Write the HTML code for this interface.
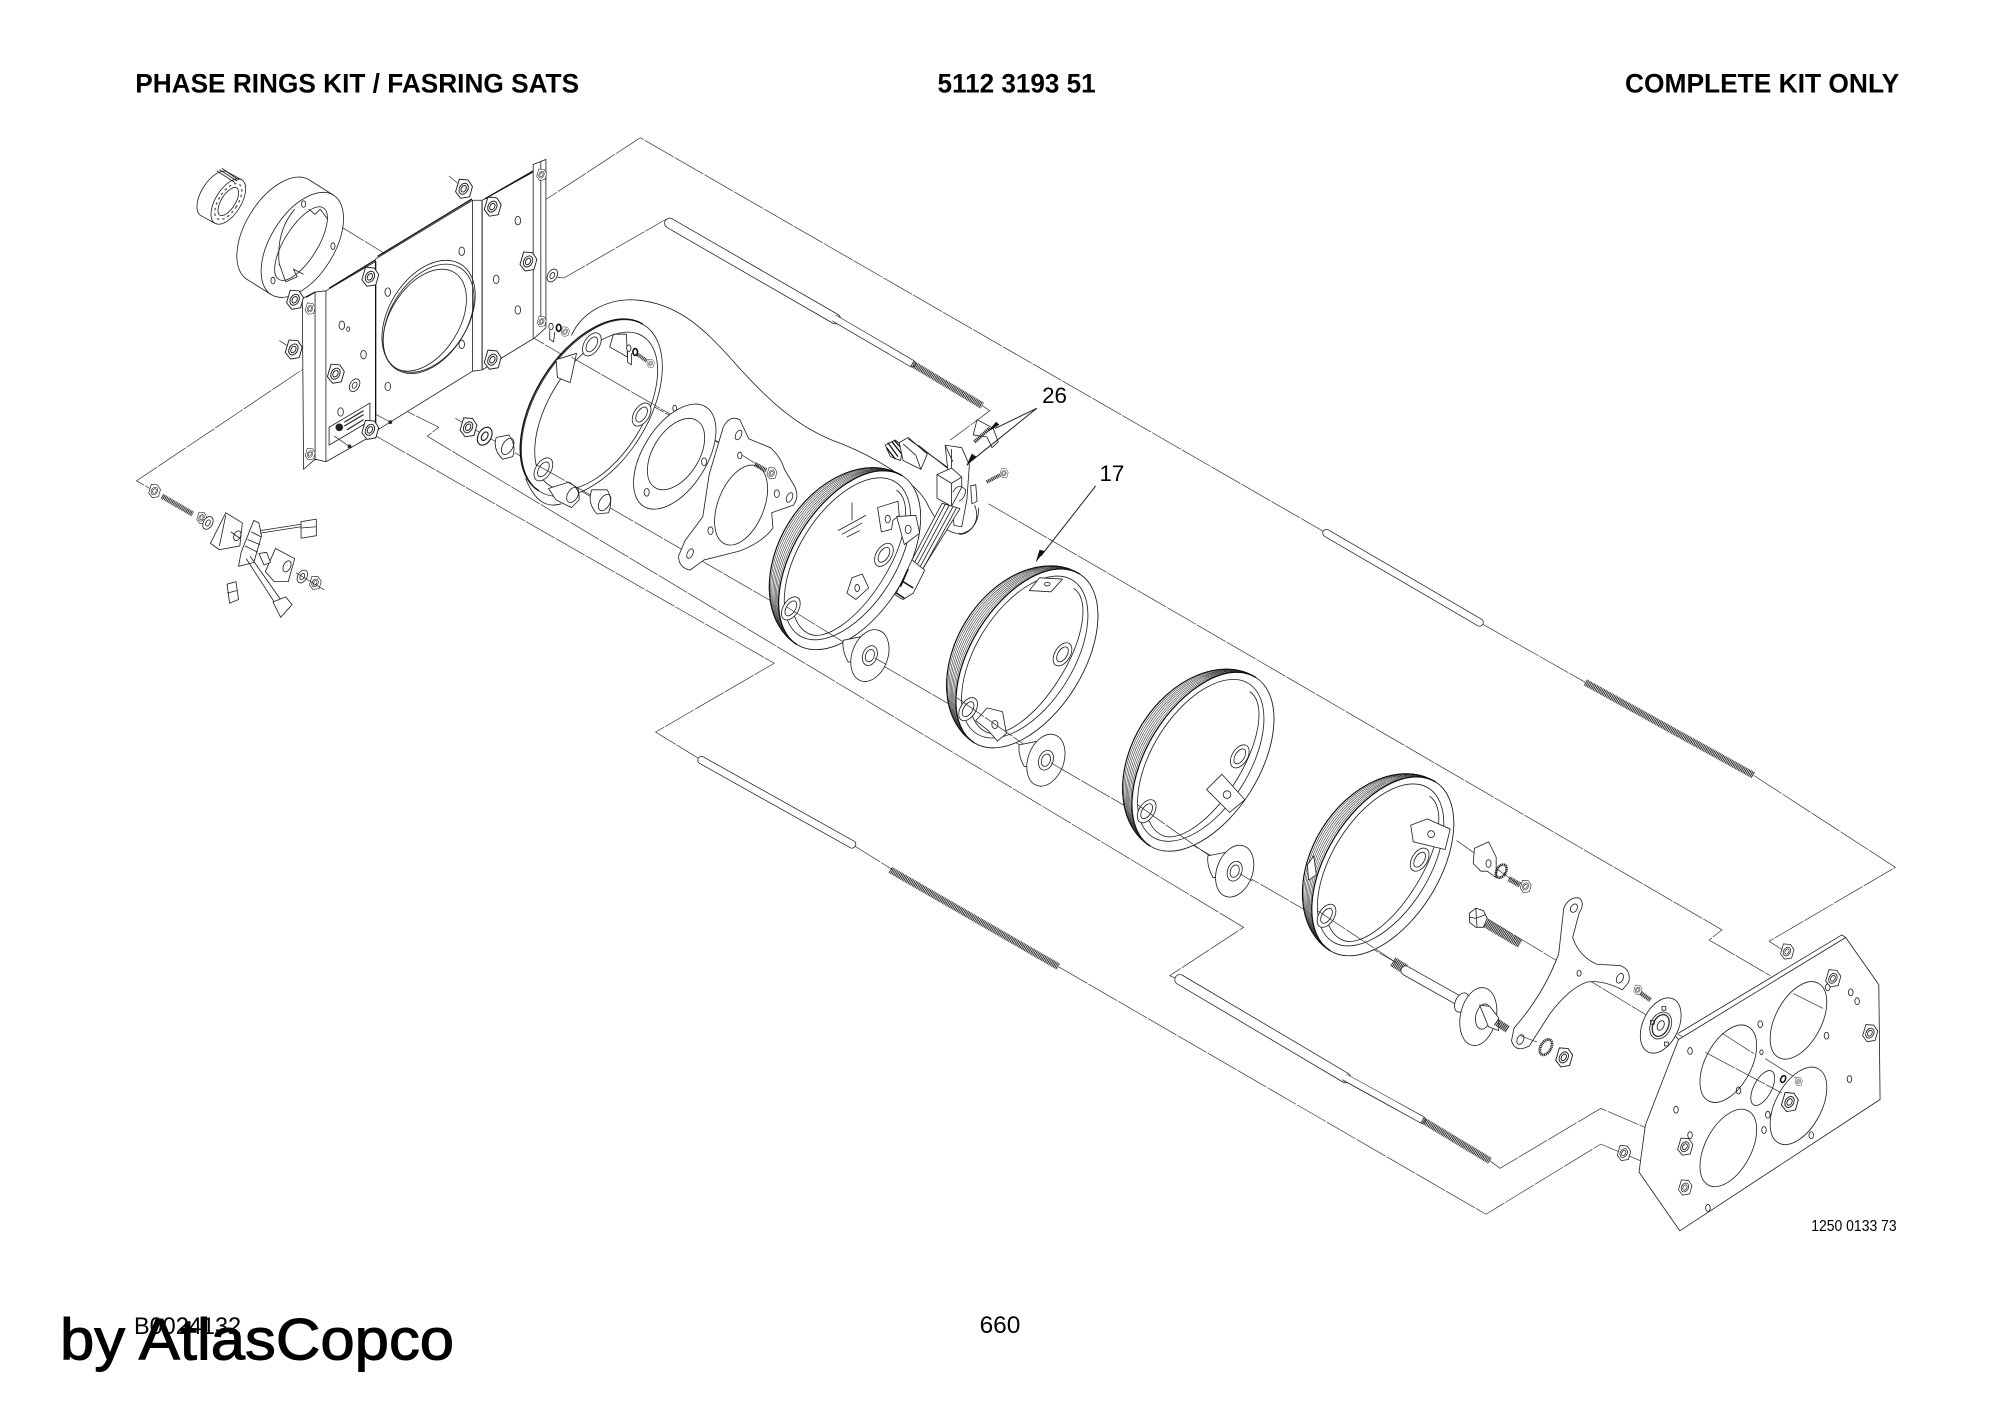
<!DOCTYPE html>
<html><head><meta charset="utf-8"><style>
html,body{margin:0;padding:0;background:#fff}
svg{display:block}
.c{fill:none;stroke:#333;stroke-width:.55;stroke-dasharray:26 1}
.p{fill:none;stroke:#222;stroke-width:.65;stroke-linejoin:round}
.w{fill:#fff;stroke:#222;stroke-width:.65;stroke-linejoin:round}
.k{fill:none;stroke:#111;stroke-width:1.2}
.t{fill:none;stroke:#333;stroke-width:5.4;stroke-dasharray:.8 .5}
.f{font-family:"Liberation Sans",sans-serif;fill:#000}
.ro{stroke:#222;stroke-linecap:round;fill:none}
.ri{stroke:#fff;stroke-linecap:round;fill:none}
</style></head><body>
<svg width="2000" height="1414" viewBox="0 0 1568 1108.6" xmlns="http://www.w3.org/2000/svg">
<defs>
<g id="nut" transform="scale(1.15)"><path class="w" d="M-3,-6.5 L3,-6 L6,-1.5 L4,5.5 L-2,6.5 L-5.5,2 Z"/><ellipse class="p" rx="2.9" ry="4" transform="rotate(30)"/><ellipse class="p" rx="1.6" ry="2.4" transform="rotate(30)"/></g>
<g id="wash"><ellipse class="w" rx="3.6" ry="5.4" transform="rotate(30)"/><ellipse class="p" rx="1.6" ry="2.6" transform="rotate(30)"/></g>
<g id="ring" transform="rotate(32)">
<path class="w" d="M6,-78 A56,78 0 0 0 6,78 A44,78 0 0 0 6,-78 Z"/>
<ellipse cx="6" rx="44" ry="78" fill="#fff" stroke="#222" stroke-width=".65"/>
<g fill="none" stroke="#333" stroke-width=".45">
<path d="M6,-78 A54.5,78 0 0 0 6,78"/><path d="M6,-78 A53,78 0 0 0 6,78"/><path d="M6,-78 A51.500,78 0 0 0 6,78"/><path d="M6,-78 A50,78 0 0 0 6,78"/><path d="M6,-78 A48.5,78 0 0 0 6,78"/><path d="M6,-78 A47,78 0 0 0 6,78"/><path d="M6,-78 A45.500,78 0 0 0 6,78"/>
</g>
<path d="M6,-78 A56,78 0 0 0 6,78" fill="none" stroke="#111" stroke-width=".9"/>
<path d="M6,-78 A44,78 0 0 0 6,78" fill="none" stroke="#111" stroke-width="1"/>
<ellipse class="p" cx="4" rx="38" ry="71"/>
<path class="p" d="M8,-66 A28,66 0 0 1 8,66"/>
<path class="p" d="M8,66 A36,66 0 0 1 -16,50"/>
</g>
<g id="lug"><ellipse class="w" rx="6" ry="10"/><ellipse class="p" rx="3.6" ry="6.5"/></g>
<g id="disc"><path class="w" d="M-21,-12 L-6,-15 L-6,4 L-17,5 Q-22,-4 -21,-12 Z"/><ellipse class="w" rx="14" ry="21" transform="rotate(20)"/><ellipse class="p" rx="5.6" ry="8" transform="rotate(20)"/><ellipse class="p" rx="3.4" ry="5" transform="rotate(20)"/></g>
</defs>

<!-- header text -->
<g class="f" font-weight="700" font-size="21">
<text x="106" y="72.5" textLength="348" lengthAdjust="spacingAndGlyphs">PHASE RINGS KIT / FASRING SATS</text>
<text x="735" y="72.5" textLength="124" lengthAdjust="spacingAndGlyphs">5112 3193 51</text>
<text x="1274" y="72.5" textLength="215" lengthAdjust="spacingAndGlyphs">COMPLETE KIT ONLY</text>
</g>

<!-- connector lines -->
<polyline class="c" points="392,165 404,172 502,108 1040,418"/>
<polyline class="c" points="1160,488 1243,535"/>
<polyline class="c" points="1375,608 1486,680 1387,738 1401,747"/>
<polyline class="c" points="435,217 442,218 522,172"/>
<polyline class="c" points="770,318 776,322 745,345"/>
<polyline class="c" points="775,395 1350,729 1340,737 1388,765"/>
<polyline class="c" points="240,161 302,199"/>
<polyline class="c" points="334,216 463,291 604,370"/>
<polyline class="c" points="278,302 344,335 335,342 975,727 917,765 926,769"/>
<polyline class="c" points="295,342 607,520 514,574 550,596"/>
<polyline class="c" points="668,662 700,682"/>
<polyline class="c" points="830,758 1165,952 1255,897 1286,910"/>
<polyline class="c" points="1168,910 1176,916 1255,869 1290,884"/>
<polyline class="c" points="1055,845 1113,877"/>
<polyline class="c" points="280,261 107,377 121,385"/>
<polyline class="c" points="357,328 1095,755"/>
<polyline class="c" points="1142,659 1190,693"/>
<polyline class="c" points="1164,719 1410,868"/>
<polyline class="c" points="352,138 364,148"/>
<polyline class="c" points="219,267 230,274"/>
<polyline class="c" points="655,250 715,285"/>

<!-- collet -->
<ellipse class="w" cx="168" cy="152" rx="10" ry="20" transform="rotate(32 168 152)"/>
<polygon points="178.6,135 189.600,141 168.4,175 157.4,169" fill="#fff"/>
<path class="p" d="M178.6,135 L189.6,141 M157.4,169 L168.4,175"/>
<ellipse class="w" cx="179" cy="158" rx="10" ry="20" transform="rotate(32 179 158)"/>
<ellipse class="p" cx="179" cy="158" rx="5.5" ry="12.5" transform="rotate(32 179 158)"/>
<ellipse cx="179" cy="158" rx="7.5" ry="16" fill="none" stroke="#555" stroke-width="1" stroke-dasharray="2 2.4" transform="rotate(32 179 158)"/>
<path d="M170,134 L184,143 M172,133 L186,142 M174,132 L187,141" stroke="#222" stroke-width=".7" fill="none"/>
<!-- big ring -->
<ellipse class="w" cx="218" cy="180" rx="25" ry="46" transform="rotate(32 218 180)"/>
<polygon points="242.4,141 261.4,153 212.6,231 193.6,219" fill="#fff"/>
<path class="p" d="M242.4,141 L261.4,153 M193.6,219 L212.6,231"/>
<ellipse class="w" cx="237" cy="192" rx="25" ry="46" transform="rotate(32 237 192)"/>
<ellipse class="p" cx="236" cy="191" rx="13" ry="33" transform="rotate(32 236 191)"/>
<path class="p" d="M231,164 Q216,182 219,208"/>
<path class="p" d="M219,207 L224,221 L233,217 L230,211 L238,215 M242,164 L247,168 L251,164 L257,172"/>
<ellipse class="p" cx="238" cy="160" rx="1.6" ry="2.6"/><ellipse class="p" cx="261" cy="193" rx="1.6" ry="2.6"/><ellipse class="p" cx="214" cy="220" rx="1.6" ry="2.6"/>

<!-- mounting plate -->
<g>
<polygon class="w" points="237,234 247,229 255.5,228 294.5,205 294.5,340 255.5,362 247,360 238,368"/>
<polygon class="w" points="294.5,203 370.5,157 378,157 378,290 370.5,291 294.5,338"/>
<polygon class="w" points="378,157 418,135 418,129 428,125 428,257 419,265 378,290"/>
<path class="p" d="M247,229 L247,361 M255.5,228 L255.5,362 M370.5,157 L370.5,291 M378,157 L378,290 M418,135 L418,265 M424,127 L424,255"/>
<path d="M296,201 L370,156 M240,233 L247,229 M258,226 L294,204 M380,156 L418,134 M294.5,205 L294.5,338" fill="none" stroke="#111" stroke-width="1"/>
<ellipse class="p" cx="336" cy="248" rx="31" ry="48" transform="rotate(32 336 248)"/>
<ellipse class="p" cx="336" cy="250" rx="30" ry="47" transform="rotate(32 336 250)"/>
<ellipse class="p" cx="333" cy="251" rx="27" ry="44" transform="rotate(32 333 251)"/>
<g class="p">
<ellipse cx="362" cy="197" rx="2.2" ry="3.3"/><ellipse cx="362" cy="270" rx="2.2" ry="3.3"/><ellipse cx="304" cy="229" rx="2.2" ry="3.3"/><ellipse cx="304" cy="303" rx="2.2" ry="3.3"/>
<ellipse cx="406" cy="173" rx="2.2" ry="3.3"/><ellipse cx="389" cy="219" rx="2.2" ry="3.3"/><ellipse cx="406" cy="243" rx="2.2" ry="3.3"/>
<ellipse cx="285" cy="278" rx="2.2" ry="3.3"/><ellipse cx="267" cy="323" rx="2.2" ry="3.3"/><ellipse cx="268" cy="255" rx="2.2" ry="3.3"/><ellipse cx="273" cy="258" rx="1.2" ry="1.8"/>
</g>
<polygon class="w" points="258,335 290,316 290,330 258,349"/>
<circle cx="266" cy="335" r="3" fill="#222"/>
<path d="M270,331 L285,322 M270,334 L285,325 M272,337 L285,329" stroke="#333" stroke-width="1" fill="none"/>
<circle cx="306" cy="331" r="1.5" fill="#222"/><circle cx="274" cy="350" r="1.5" fill="#222"/>
<polyline class="c" points="295,325 306,331"/><polyline class="c" points="262,342 274,350"/>
</g>
<use href="#nut" x="363.5" y="148"/><use href="#nut" x="386" y="162"/><use href="#nut" x="424.5" y="137" transform="translate(424.5 137) scale(.6) translate(-424.5 -137)"/><use href="#nut" x="414" y="205"/><use href="#wash" x="433" y="216"/><use href="#nut" x="386" y="282"/><use href="#nut" x="290" y="217"/><use href="#nut" x="231" y="235"/><use href="#nut" x="243" y="242" transform="translate(243 242) scale(.6) translate(-243 -242)"/><use href="#nut" x="230" y="274"/><use href="#nut" x="263" y="293"/><use href="#wash" x="278" y="302"/><use href="#nut" x="290" y="337"/><use href="#nut" x="243" y="356" transform="translate(243 356) scale(.6) translate(-243 -356)"/>
<use href="#nut" x="424.5" y="252" transform="translate(424.5 252) scale(.55) translate(-424.5 -252)"/>
<ellipse class="w" cx="432" cy="256" rx="1.7" ry="2.6"/><path class="p" d="M431,259 L431,266 L434,268 L435,260"/><ellipse cx="438" cy="257" rx="1.8" ry="2.7" fill="none" stroke="#111" stroke-width="1.3"/><use href="#nut" x="443" y="260" transform="translate(443 260) scale(.5) translate(-443 -260)"/>

<!-- rods -->
<g>
<line class="ro" x1="525" y1="175" x2="655" y2="250" stroke-width="8.5"/><line class="ri" x1="525" y1="175" x2="655" y2="250" stroke-width="7.3"/>
<line class="ro" x1="655" y1="250" x2="715" y2="285" stroke-width="6"/><line class="ri" x1="650" y1="247" x2="715" y2="285" stroke-width="4.9"/>
<line class="t" x1="715" y1="285" x2="770" y2="318"/>
<line class="ro" x1="1040" y1="418" x2="1160" y2="488" stroke-width="6.5"/><line class="ri" x1="1040" y1="418" x2="1160" y2="488" stroke-width="5.3"/>
<line class="t" x1="1243" y1="535" x2="1375" y2="608"/>
<line class="ro" x1="550" y1="596" x2="668" y2="662" stroke-width="6.5"/><line class="ri" x1="550" y1="596" x2="668" y2="662" stroke-width="5.3"/>
<line class="t" x1="698" y1="682" x2="830" y2="758"/>
<line class="ro" x1="925" y1="768" x2="1055" y2="845" stroke-width="8.5"/><line class="ri" x1="925" y1="768" x2="1055" y2="845" stroke-width="7.3"/>
<line class="ro" x1="1055" y1="845" x2="1115" y2="878" stroke-width="6"/><line class="ri" x1="1050" y1="842" x2="1115" y2="878" stroke-width="4.9"/>
<line class="t" x1="1115" y1="878" x2="1168" y2="910"/>
</g>

<!-- cable outline curve -->
<path class="p" d="M448,263 C456,245 475,235 495,235 C530,236 552,258 572,280 C600,312 625,336 660,348 C690,360 720,380 727,395 C735,412 745,420 755,418 C765,415 768,405 764,396"/>
<!-- front ring plate -->
<g transform="translate(464 320) rotate(32)">
<ellipse class="w" cx="0" cy="0" rx="44" ry="77"/>
<ellipse class="p" cx="4" cy="0" rx="37" ry="69"/>
<path d="M-1,-77 A44,77 0 0 0 -1,77" fill="none" stroke="#111" stroke-width="1.1"/>
</g>
<path class="w" d="M430,383 L446,378 Q455,383 454,392 L448,398 L436,392 Z"/>
<ellipse class="p" cx="449" cy="388" rx="4" ry="6.5" transform="rotate(30 449 388)"/>
<path class="p" d="M412,375 C420,395 430,398 440,395"/>
<path class="w" d="M436,282 L452,277 L447,300 L437,296 Z"/>
<path class="p" d="M481,262 L491,262 L492,280 L478,272 Z"/>
<use href="#lug" x="464" y="270" transform="rotate(32 464 270)"/><use href="#lug" x="503" y="325" transform="rotate(32 503 325)"/><use href="#lug" x="426" y="368" transform="rotate(32 426 368)"/>
<ellipse class="w" cx="493" cy="273" rx="1.7" ry="2.6"/><path class="p" d="M492,276 L492,284 L495,286 L495,277"/><ellipse cx="498" cy="276" rx="1.8" ry="2.7" fill="none" stroke="#111" stroke-width="1.3"/><line class="t" x1="500" y1="278" x2="507" y2="283" style="stroke-width:3"/><use href="#nut" x="510" y="285" transform="translate(510 285) scale(.45) translate(-510 -285)"/>
<polyline class="c" points="448,280 604,370"/>
<polyline class="c" points="420,364 470,392"/>

<!-- washers in front of ring -->
<use href="#nut" x="367" y="335"/><use href="#wash" x="380" y="342" transform="translate(380 342) scale(1.4) translate(-380 -342)"/>
<path class="w" d="M389,343 L399,341 Q405,349 402,358 L394,360 Q386,352 389,343 Z"/><ellipse class="p" cx="398" cy="350" rx="4" ry="7" transform="rotate(30 398 350)"/>
<path class="w" d="M464,384 L476,384 Q481,392 477,402 L468,403 Q460,394 464,384 Z"/><ellipse class="p" cx="474" cy="394" rx="4" ry="7" transform="rotate(30 474 394)"/>

<!-- gasket -->
<ellipse class="w" cx="529" cy="358" rx="25" ry="46" transform="rotate(32 529 358)"/>
<ellipse class="p" cx="530" cy="356" rx="18" ry="31" transform="rotate(32 530 356)"/>
<ellipse class="p" cx="529" cy="320" rx="1.5" ry="2.3"/><ellipse class="p" cx="552" cy="362" rx="2" ry="3"/><ellipse class="p" cx="507" cy="386" rx="2" ry="3"/>
<!-- flange plate -->
<path class="w" d="M567,335 Q572,325 580,329 L587,344 L604,351 Q612,358 615,368 L621,378 Q628,388 622,396 L605,402 L606,414 Q598,425 580,432 L552,439 L541,447 Q532,445 532,436 L537,424 L551,405 L556,372 Z"/>
<ellipse class="p" cx="581" cy="396" rx="18" ry="33" transform="rotate(22 581 396)"/>
<ellipse class="p" cx="579" cy="341" rx="2.2" ry="4" transform="rotate(25 579 341)"/><ellipse class="p" cx="619" cy="390" rx="2.2" ry="4" transform="rotate(25 619 390)"/><ellipse class="p" cx="541" cy="434" rx="2.2" ry="4" transform="rotate(25 541 434)"/>
<ellipse class="p" cx="609" cy="387" rx="2" ry="3"/><ellipse class="p" cx="557" cy="416" rx="2" ry="3"/><ellipse class="p" cx="580" cy="357" rx="1.7" ry="2.6"/>
<line class="t" x1="592" y1="364" x2="601" y2="369" style="stroke-width:3.6"/><use href="#nut" x="605" y="371" transform="translate(605 371) scale(.6) translate(-605 -371)"/>
<polyline class="c" points="582,357 595,365"/>

<!-- Rings -->
<use href="#ring" x="661" y="436"/>
<use href="#ring" x="800" y="513"/>
<use href="#ring" x="938" y="594"/>
<use href="#ring" x="1079" y="676"/>

<!-- Ribbon module -->
<g>
<path class="w" d="M694,349 L702,345 L708,350 L706,361 L698,358 Z"/>
<path d="M696,347 L704,358 M699,346 L707,356 M701,345 L708,353 M695,351 L702,360" stroke="#111" stroke-width="1" fill="none"/>
<path class="w" d="M705,347 L712,343 L727,356 L722,368 L708,361 Z"/>
<path class="p" d="M708,348 L718,357 L722,368 M712,344 L752,373 M716,347 L753,374 M720,349 L754,376"/>
<path class="w" d="M741,349 L754,351 L760,364.6 L758,392 L754,413 L748,412 L746,396 Z"/>
<path class="p" d="M746,352 L746,376 M741,349 L747,362"/>
<path class="w" d="M734.6,372 L746,367 L754,374 L754,382 L746,397 L734.6,390.6 Z"/>
<path class="p" d="M734.6,372 L746,379 L746,397 M746,379 L754,374"/>
<path class="p" d="M747,386 Q751,378 757,384 Q757,390 752,393"/>
<path class="w" d="M738.6,394.6 L752.6,398.7 L722.8,447 L715,439 Z"/>
<path class="p" d="M741,395.5 L717,441 M744,396.5 L719,443 M747,397.500 L721,445 M750,398 L723,447"/>
<path class="w" d="M715,439 L725,447 L716,465 L708,470 L702,466.5 Z"/>
<path d="M708,456 L716,461 M703,465 L709,469 M712,446 L706,460" stroke="#111" stroke-width="1.2" fill="none"/>
</g>
<!-- Fasteners by module -->
<path class="w" d="M766,329 L778.6,335.7 L782.6,346.5 L777.7,351 L773.8,342.6 L763,341 Z"/>
<line x1="764" y1="346.5" x2="776" y2="335.7" stroke="#222" stroke-width="2.8" stroke-dasharray=".9 .5"/>
<line x1="773.6" y1="377.9" x2="784" y2="372.4" stroke="#333" stroke-width="2.8" stroke-dasharray=".9 .5"/>
<use href="#nut" x="787" y="371" transform="translate(787 371) scale(.5) translate(-787 -371)"/>
<path class="w" d="M761,381 L765,380 L766,393 L762,395 Z"/>
<path class="p" d="M752,419 C760,419 768,410 767,398"/>

<!-- Ring 1 details -->
<use href="#lug" x="693" y="435" transform="rotate(32 693 435)"/><use href="#lug" x="620" y="477" transform="rotate(32 620 477)"/>
<path class="w" d="M688,398 L704,393 L705,404 L700,408 L699,415 L691,417 Z"/>
<ellipse class="p" cx="696" cy="407" rx="2" ry="3"/>
<path class="w" d="M703,405 L718,404 L721,418 L709,427 Z"/>
<ellipse class="p" cx="712" cy="415" rx="2.3" ry="3.3"/>
<path class="w" d="M668,453 L676,450 L681,461 L671,470 L664,465 Z"/><ellipse class="p" cx="672" cy="461" rx="1.8" ry="2.8"/>
<path class="p" d="M668,394 L668,408 M657,416 L679,404 M660,419 L676,410 M664,421 L674,416"/>
<!-- Ring 2 details -->
<use href="#lug" x="833" y="513" transform="rotate(32 833 513)"/><use href="#lug" x="759" y="556" transform="rotate(32 759 556)"/>
<path class="w" d="M807,463 L815,453 L833,454 L824,464 Z"/><ellipse class="p" cx="821" cy="458" rx="2.3" ry="1.4"/>
<path class="w" d="M765,565 L774,555 L786,558 L789,575 L782,581 L775,573 Z"/><ellipse class="p" cx="780" cy="568" rx="2.4" ry="3.2"/>
<!-- Ring 3 details -->
<use href="#lug" x="972" y="593" transform="rotate(32 972 593)"/><use href="#lug" x="899" y="636" transform="rotate(32 899 636)"/>
<polygon class="w" points="946,619 958,607 976,627 964,637"/><circle class="p" cx="962" cy="623" r="3"/>
<!-- Ring 4 details -->
<use href="#lug" x="1113" y="674" transform="rotate(32 1113 674)"/><use href="#lug" x="1040" y="718" transform="rotate(32 1040 718)"/>
<polygon class="w" points="1106,647 1119,642 1137,650 1133,666 1108,660"/><circle class="p" cx="1122" cy="654" r="2.7"/>
<polygon class="w" points="1025,678 1030,671 1032,686 1026,690"/>

<!-- axis overlays on rings -->
<polyline class="c" points="617,476 672,510"/>
<polyline class="c" points="750,547 812,590"/>
<polyline class="c" points="892,631 958,678"/>
<polyline class="c" points="1033,714 1095,755"/>

<!-- discs -->
<use href="#disc" x="682" y="514"/><use href="#disc" x="820" y="596"/><use href="#disc" x="968" y="683"/>
<polyline class="c" points="686,516 695,521"/><polyline class="c" points="824,598 834,604"/><polyline class="c" points="972,685 982,691"/>

<!-- leader arrows and labels -->
<path d="M813,320 L780,336 M813,320 L762,361" stroke="#222" stroke-width=".8" fill="none"/>
<path d="M783,333 L775,338 L781,331Z M765,358 L758,365 L762,356Z" fill="#111" stroke="#111" stroke-width=".5"/>
<path d="M859,381 L816,436" stroke="#222" stroke-width=".8"/>
<path d="M812,441 L819,432 L815,431Z" fill="#111"/>
<g class="f" font-size="17.5"><text x="817" y="316">26</text><text x="862" y="377">17</text></g>

<!-- Right side fasteners -->
<path class="w" d="M1156,665 L1167,660 L1173,672 L1173,688 L1166,683 L1161,683 L1155,677 Z"/><ellipse class="p" cx="1167" cy="677" rx="2" ry="3"/>
<ellipse cx="1177" cy="683" rx="3.6" ry="5.6" fill="none" stroke="#111" stroke-width="2" stroke-dasharray=".9 .5" transform="rotate(30 1177 683)"/>
<line class="t" x1="1183" y1="689" x2="1192" y2="694" style="stroke-width:4.4"/><use href="#nut" x="1196" y="695" transform="translate(1196 695) scale(.65) translate(-1196 -695)"/>
<line class="t" x1="1165" y1="724" x2="1192" y2="740" style="stroke-width:7"/>
<path class="w" d="M1152,716 L1157,712 L1163,714 L1166,720 L1163,727 L1157,727 L1152,723 Z"/><path class="p" d="M1157,712 L1158,727 M1152,719 L1157,720 L1165,717"/>
<!-- stud -->
<line class="t" x1="1092" y1="754" x2="1102" y2="760" style="stroke-width:8"/>
<line class="ro" x1="1102" y1="761" x2="1150" y2="788" stroke-width="8"/><line class="ri" x1="1102" y1="761" x2="1150" y2="788" stroke-width="6.8"/>
<ellipse class="w" cx="1146" cy="786" rx="5" ry="8" transform="rotate(25 1146 786)"/>
<ellipse class="w" cx="1159" cy="797" rx="14" ry="23" transform="rotate(12 1159 797)"/>
<ellipse class="p" cx="1163" cy="797" rx="6" ry="10" transform="rotate(12 1163 797)"/>
<path class="w" d="M1160,788 L1168,789 L1175,798 L1175,808 L1167,805 Z"/>
<line x1="1173" y1="801" x2="1182" y2="807" stroke="#333" stroke-width="6" stroke-dasharray=".9 .5"/>
<!-- Y bracket -->
<path class="w" d="M1226,712 Q1230,703 1238,704 Q1243,708 1238,716 L1233,735 Q1238,750 1252,756 L1270,757 Q1279,760 1277,770 L1272,776 Q1256,768 1244,770 Q1230,775 1215,795 L1199,820 Q1188,826 1185,816 L1187,806 Q1210,780 1222,748 Z"/>
<ellipse class="p" cx="1234" cy="712" rx="2.5" ry="3.5" transform="rotate(30 1234 712)"/><ellipse class="p" cx="1270" cy="767" rx="2.5" ry="4" transform="rotate(25 1270 767)"/><ellipse class="p" cx="1192" cy="815" rx="2.5" ry="4" transform="rotate(25 1192 815)"/><ellipse class="p" cx="1238" cy="763" rx="1.6" ry="2.4"/>
<ellipse cx="1212" cy="821" rx="4" ry="6.6" fill="none" stroke="#222" stroke-width="2.2" stroke-dasharray=".9 .5" transform="rotate(30 1212 821)"/>
<use href="#nut" x="1226" y="829"/>
<polyline class="c" points="1192,812 1205,817"/>

<!-- main plate -->
<polygon class="w" points="1447,735 1473,772 1474,862 1317,965 1285,919 1290,882 1316,815"/>
<path class="p" d="M1316,810 L1444,733 L1447,735 M1316,815 L1312,811"/>
<g class="p">
<ellipse cx="1410" cy="800" rx="18" ry="33" transform="rotate(28 1410 800)"/>
<ellipse cx="1355" cy="834" rx="18" ry="33" transform="rotate(28 1355 834)"/>
<ellipse cx="1355" cy="900" rx="18" ry="33" transform="rotate(28 1355 900)"/>
<ellipse cx="1410" cy="867" rx="18" ry="33" transform="rotate(28 1410 867)"/>
<ellipse cx="1382" cy="853" rx="7" ry="15" transform="rotate(28 1382 853)"/>
<ellipse cx="1325" cy="824" rx="1.8" ry="2.7"/><ellipse cx="1380" cy="803" rx="1.8" ry="2.7"/><ellipse cx="1433" cy="774" rx="1.8" ry="2.7"/><ellipse cx="1451" cy="778" rx="1.8" ry="2.7"/><ellipse cx="1456" cy="785" rx="1.8" ry="2.7"/><ellipse cx="1432" cy="812" rx="1.8" ry="2.7"/><ellipse cx="1314" cy="870" rx="1.8" ry="2.7"/><ellipse cx="1450" cy="846" rx="1.8" ry="2.7"/><ellipse cx="1325" cy="890" rx="1.8" ry="2.7"/><ellipse cx="1386" cy="874" rx="1.8" ry="2.7"/><ellipse cx="1363" cy="855" rx="1.8" ry="2.7"/><ellipse cx="1383" cy="886" rx="1.8" ry="2.7"/><ellipse cx="1420" cy="890" rx="1.8" ry="2.7"/><ellipse cx="1339" cy="947" rx="1.8" ry="2.7"/><ellipse cx="1381" cy="825" rx="1.3" ry="1.9"/>
</g>
<polyline class="c" points="1406,779 1430,791"/><polyline class="c" points="1350,810 1375,826"/><polyline class="c" points="1337,825 1397,857"/><polyline class="c" points="1384,830 1411,847"/>
<use href="#nut" x="1401" y="746" transform="translate(1401 746) scale(.8) translate(-1401 -746)"/>
<use href="#nut" x="1437" y="767" transform="translate(1437 767) scale(.9) translate(-1437 -767)"/><use href="#nut" x="1466" y="810" transform="translate(1466 810) scale(.9) translate(-1466 -810)"/>
<use href="#nut" x="1403" y="864"/><use href="#nut" x="1273" y="904" transform="translate(1273 904) scale(.8) translate(-1273 -904)"/>
<use href="#nut" x="1321" y="899" transform="translate(1321 899) scale(.9) translate(-1321 -899)"/><use href="#nut" x="1321" y="931" transform="translate(1321 931) scale(.8) translate(-1321 -931)"/>
<ellipse cx="1398" cy="846" rx="1.8" ry="2.8" fill="none" stroke="#111" stroke-width="1.2" transform="rotate(25 1398 846)"/><use href="#nut" x="1410" y="848" transform="translate(1410 848) scale(.45) translate(-1410 -848)"/>
<!-- bearing flange -->
<ellipse class="w" cx="1302" cy="804" rx="14" ry="23" transform="rotate(25 1302 804)"/>
<ellipse class="p" cx="1302" cy="804" rx="8" ry="11" transform="rotate(25 1302 804)"/>
<ellipse class="p" cx="1302" cy="804" rx="6" ry="9" transform="rotate(25 1302 804)" style="stroke-width:1"/>
<ellipse class="p" cx="1302" cy="804" rx="2.5" ry="4" transform="rotate(25 1302 804)"/>
<rect class="p" x="1303" y="789" width="3" height="3"/><rect class="p" x="1294" y="800" width="3" height="3"/><rect class="p" x="1305" y="817" width="3" height="3"/>
<line x1="1284" y1="777" x2="1294" y2="784" stroke="#333" stroke-width="3.6" stroke-dasharray=".9 .5"/><use href="#nut" x="1284" y="776" transform="translate(1284 776) scale(.5) translate(-1284 -776)"/>

<!-- left cluster -->
<use href="#nut" x="121" y="385" transform="translate(121 385) scale(.7) translate(-121 -385)"/>
<line class="t" x1="127" y1="389" x2="151" y2="403" style="stroke-width:4.2"/>
<use href="#nut" x="158" y="406" transform="translate(158 406) scale(.6) translate(-158 -406)"/><use href="#wash" x="163" y="410"/>
<path class="w" d="M165,426 L177,402 L190,410 L188,428 L172,431 Z"/><path class="p" d="M177,404 L172,428 M181,417 L188,422"/><ellipse class="p" cx="186" cy="420" rx="2.6" ry="4" transform="rotate(25 186 420)"/>
<path class="w" d="M189,433 L199,408 L203,410 L205,420 L199,441 L187,444 Z"/><path class="p" d="M192,428 L202,433 M194,423 L204,427 M197,417 L205,421"/>
<path class="p" d="M204,416 L236,411 M204,418 L236,413"/><polygon class="w" points="236,409 248,407 248,420 236,422"/><line x1="236" y1="414" x2="248" y2="413" stroke="#222" stroke-width=".6"/>
<path class="p" d="M193,438 L217,475 M196,436 L220,470"/><polygon class="w" points="214,472 224,468 229,474 220,484"/>
<path class="w" d="M208,448 L216,430 L231,438 L226,456 L215,456 Z"/><ellipse class="p" cx="225" cy="444" rx="2.8" ry="4.6" transform="rotate(25 225 444)"/>
<path class="w" d="M203,434 L209,433 L212,441 L207,443 Z"/>
<polygon class="w" points="178,458 185,456 187,470 180,473"/><line x1="178" y1="465" x2="186" y2="463" stroke="#222" stroke-width=".6"/>
<use href="#wash" x="237" y="452"/><use href="#nut" x="247" y="457" transform="translate(247 457) scale(.7) translate(-247 -457)"/>
<polyline class="c" points="232,449 255,463"/>

<!-- footer -->
<g class="f">
<text x="105" y="1046" font-size="18.5" textLength="84" lengthAdjust="spacingAndGlyphs">B0024132</text>
<text x="768" y="1045" font-size="18.5" textLength="32" lengthAdjust="spacingAndGlyphs">660</text>
<text x="1420" y="965" font-size="12" textLength="67" lengthAdjust="spacingAndGlyphs">1250 0133 73</text>
<text x="47" y="1066" font-size="46" textLength="309" lengthAdjust="spacingAndGlyphs" stroke="#000" stroke-width=".8">by AtlasCopco</text>
</g>
</svg>
</body></html>
